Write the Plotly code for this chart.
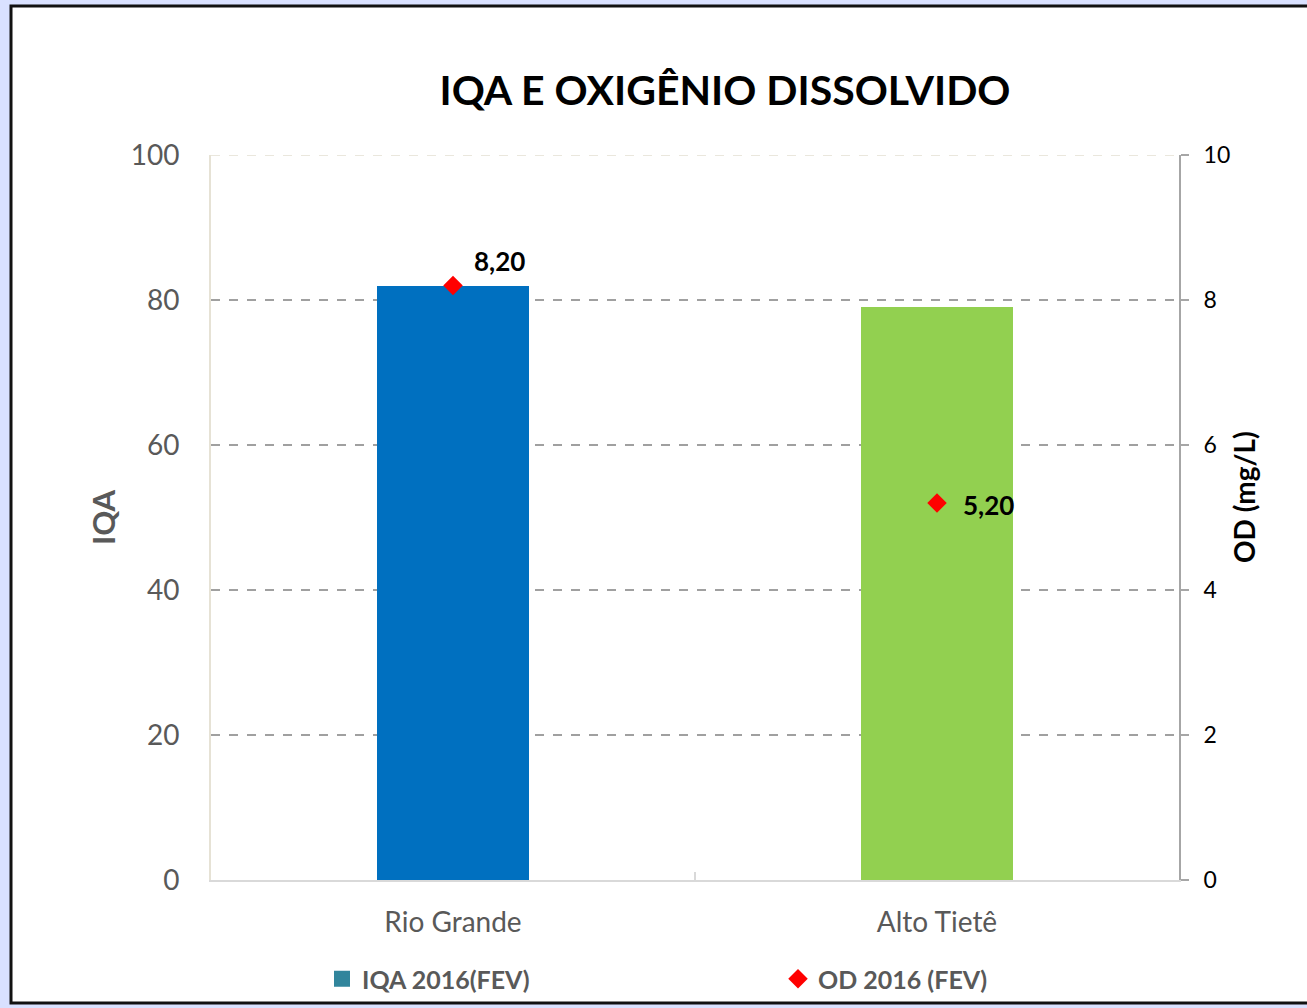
import plotly.graph_objects as go

categories = ["Rio Grande", "Alto Tietê"]
iqa_values = [82, 79]
od_values = [8.20, 5.20]
bar_colors = ["#0070C0", "#92D050"]
title_text = "IQA E OXIGÊNIO DISSOLVIDO"
iqa_name = "IQA 2016(FEV)"
od_name = "OD 2016 (FEV)"
left_title = "IQA"
right_title = "OD (mg/L)"
left_ticks = [0, 20, 40, 60, 80, 100]
right_ticks = [0, 2, 4, 6, 8, 10]

FONT = "Lato"
W, H = 1307, 1008
L, R, T, B = 211, 128, 155, 128
pw, ph = W - L - R, H - T - B

def px_x(p):
    return (p - L) / pw

def px_y(p):
    return (H - B - p) / ph

fig = go.Figure()

fig.add_trace(go.Bar(
    x=categories, y=iqa_values, marker=dict(color=bar_colors, line=dict(width=0)),
    width=0.314, showlegend=False, yaxis="y", hoverinfo="skip"))
fig.add_trace(go.Scatter(
    x=[None], y=[None], mode="markers", name=iqa_name, yaxis="y",
    marker=dict(symbol="square", color="#31859C", size=16)))
fig.add_trace(go.Scatter(
    x=categories, y=od_values, mode="markers", name=od_name, yaxis="y2",
    marker=dict(symbol="diamond", color="#FF0000", size=15, line=dict(width=0))))

shifts = [(19, 25, "left"), (24, -2, "left")]
for c, v, (xs, ys, anc) in zip(categories, od_values, shifts):
    fig.add_annotation(x=c, y=v, xref="x", yref="y2", text=f"{v:.2f}".replace(".", ","),
                       showarrow=False, xanchor=anc, yanchor="middle", xshift=xs, yshift=ys,
                       font=dict(family=FONT, size=26, color="#000000", weight="bold"))

# right axis title
fig.add_annotation(xref="paper", yref="paper", x=px_x(1244), y=px_y(497), text=right_title,
                   textangle=-90, showarrow=False, xanchor="center", yanchor="middle",
                   font=dict(family=FONT, size=28, color="#000000", weight="bold"))

# white card with black border
fig.add_shape(type="rect", xref="paper", yref="paper",
              x0=px_x(11), x1=px_x(1320), y0=px_y(1003), y1=px_y(6),
              fillcolor="#FFFFFF", line=dict(color="#111111", width=3), layer="below")
# beige top gridline
fig.add_shape(type="line", xref="paper", yref="y", x0=0, x1=1, y0=100, y1=100,
              line=dict(color="#E4E0D2", width=1.5, dash="dash"), layer="above")

fig.update_layout(
    width=W, height=H,
    margin=dict(l=L, r=R, t=T, b=B, autoexpand=False),
    paper_bgcolor="#D9E1FF", plot_bgcolor="#FFFFFF",
    font=dict(family=FONT),
    title=dict(text=title_text, x=(725) / W, xref="container", xanchor="center",
               y=1 - 91 / H, yref="container", yanchor="middle",
               font=dict(family=FONT, size=41, color="#000000", weight="bold")),
    bargap=0,
    xaxis=dict(showline=True, linecolor="#D9D9D9", linewidth=2,
               ticks="inside", tickson="boundaries", ticklen=8, tickcolor="#D9D9D9", tickwidth=1.5,
               tickfont=dict(family=FONT, size=28, color="#595959"),
               ticklabelstandoff=16, showgrid=False, zeroline=False),
    yaxis=dict(range=[0, 100], tickvals=left_ticks, showline=True, linecolor="#E6E2D5", linewidth=2,
               showgrid=True, gridcolor="#A0A0A0", griddash="dash", gridwidth=1.5,
               zeroline=False, ticks="",
               tickfont=dict(family=FONT, size=28, color="#595959"), ticklabelstandoff=24,
               title=dict(text=left_title, standoff=6,
                          font=dict(family=FONT, size=31, color="#595959", weight="bold"))),
    yaxis2=dict(range=[0, 10], tickvals=right_ticks, overlaying="y", side="right",
                showline=True, linecolor="#A6A6A6", linewidth=2, ticks="outside", ticklen=8,
                tickcolor="#A6A6A6", tickwidth=2, showgrid=False, zeroline=False,
                tickfont=dict(family=FONT, size=23, color="#000000"), ticklabelstandoff=10),
    legend=dict(orientation="h", x=px_x(322), xanchor="left", y=px_y(979), yanchor="middle",
                entrywidth=411, entrywidthmode="pixels", bgcolor="rgba(0,0,0,0)",
                font=dict(family=FONT, size=25, color="#595959", weight="bold")),
)

fig.write_html("out.html", config={"displayModeBar": False},
               post_script="document.body.style.margin='0';")
